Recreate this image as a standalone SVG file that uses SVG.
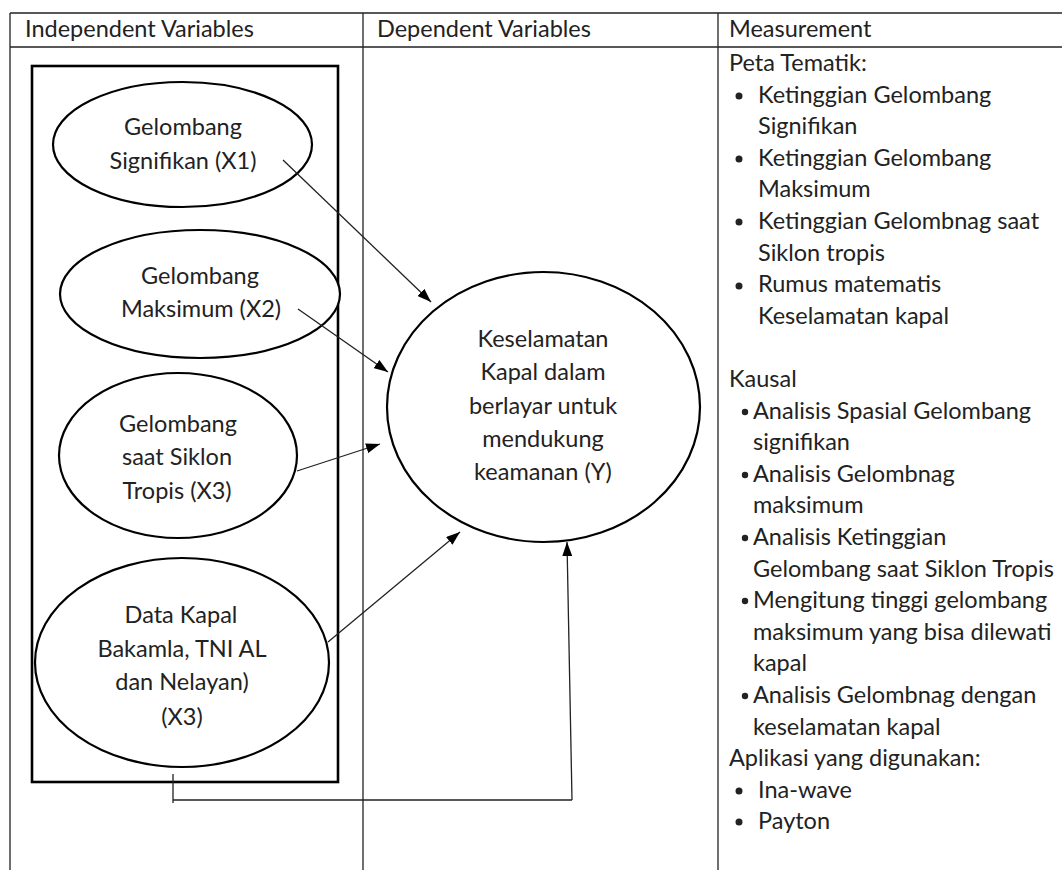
<svg xmlns="http://www.w3.org/2000/svg" width="1062" height="870" viewBox="0 0 1062 870">
<style>
text{font-family:Lato,"Open Sans","Liberation Sans",sans-serif;font-size:23.5px;fill:#222}
.c{text-anchor:middle}
.tbl{stroke:#222;stroke-width:1.3;fill:none}
.node{fill:#fff;stroke:#000;stroke-width:2.2}
.con{stroke:#222;stroke-width:1.3;fill:none}
.bul{fill:#222}
</style>
<defs>
<marker id="ah" viewBox="0 0 14 10" refX="14" refY="5" markerWidth="14" markerHeight="10" markerUnits="userSpaceOnUse" orient="auto">
<path d="M0,0 L14,5 L0,10 z" fill="#000"/>
</marker>
</defs>
<rect width="1062" height="870" fill="#fff"/>
<g id="table">
<path class="tbl" d="M10,13 H1062 M10,47 H1062 M10,13 V870 M363,13 V870 M718,13 V870"/>
<text x="25" y="37">Independent Variables</text>
<text x="377" y="37">Dependent Variables</text>
<text x="729" y="37">Measurement</text>
</g>
<g id="box">
<rect x="32" y="66" width="306" height="716" fill="none" stroke="#000" stroke-width="2.6"/>
</g>
<g id="x1">
<ellipse class="node" cx="182.5" cy="144.5" rx="129.5" ry="62.5"/>
<text class="c" x="183" y="135">Gelombang</text>
<text class="c" x="183" y="169">Signifikan (X1)</text>
</g>
<g id="x2">
<ellipse class="node" cx="200" cy="294" rx="140" ry="64"/>
<text class="c" x="200" y="284">Gelombang</text>
<text class="c" x="201" y="317">Maksimum (X2)</text>
</g>
<g id="x3">
<ellipse class="node" cx="178" cy="455.5" rx="119" ry="82.5"/>
<text class="c" x="178" y="432">Gelombang</text>
<text class="c" x="177" y="465">saat Siklon</text>
<text class="c" x="177" y="499">Tropis (X3)</text>
</g>
<g id="x4">
<ellipse class="node" cx="182" cy="662.5" rx="147" ry="104.5"/>
<text class="c" x="181" y="623">Data Kapal</text>
<text class="c" x="182" y="657">Bakamla, TNI AL</text>
<text class="c" x="182" y="690">dan Nelayan)</text>
<text class="c" x="182" y="725">(X3)</text>
</g>
<g id="y">
<ellipse class="node" cx="543.5" cy="407" rx="156.5" ry="135"/>
<text class="c" x="543" y="347">Keselamatan</text>
<text class="c" x="543" y="380">Kapal dalam</text>
<text class="c" x="543" y="414">berlayar untuk</text>
<text class="c" x="543" y="447">mendukung</text>
<text class="c" x="543" y="480">keamanan (Y)</text>
</g>
<g id="connectors">
<line class="con" x1="283" y1="160" x2="431" y2="302" marker-end="url(#ah)"/>
<line class="con" x1="298" y1="309" x2="388" y2="372" marker-end="url(#ah)"/>
<line class="con" x1="297" y1="471" x2="380" y2="444" marker-end="url(#ah)"/>
<line class="con" x1="328" y1="642" x2="460" y2="532" marker-end="url(#ah)"/>
<path class="con" d="M173,774 V803 M173,800 H572"/>
<line class="con" x1="572" y1="800" x2="567" y2="542" marker-end="url(#ah)"/>
</g>
<g id="measurement">
<text x="729" y="71">Peta Tematik:</text>
<circle class="bul" cx="739" cy="96" r="3.5"/>
<text x="758" y="103">Ketinggian Gelombang</text>
<text x="758" y="134">Signifikan</text>
<circle class="bul" cx="739" cy="159" r="3.5"/>
<text x="758" y="166">Ketinggian Gelombang</text>
<text x="758" y="197">Maksimum</text>
<circle class="bul" cx="739" cy="222" r="3.5"/>
<text x="758" y="229">Ketinggian Gelombnag saat</text>
<text x="758" y="261">Siklon tropis</text>
<circle class="bul" cx="739" cy="286" r="3.5"/>
<text x="758" y="292">Rumus matematis</text>
<text x="758" y="324">Keselamatan kapal</text>
<text x="729" y="387">Kausal</text>
<circle class="bul" cx="745" cy="412" r="3.2"/>
<text x="753" y="419">Analisis Spasial Gelombang</text>
<text x="753" y="450">signifikan</text>
<circle class="bul" cx="745" cy="475" r="3.2"/>
<text x="753" y="482">Analisis Gelombnag</text>
<text x="753" y="513">maksimum</text>
<circle class="bul" cx="745" cy="538" r="3.2"/>
<text x="753" y="545">Analisis Ketinggian</text>
<text x="753" y="577">Gelombang saat Siklon Tropis</text>
<circle class="bul" cx="745" cy="601" r="3.2"/>
<text x="753" y="608">Mengitung tinggi gelombang</text>
<text x="753" y="640">maksimum yang bisa dilewati</text>
<text x="753" y="671">kapal</text>
<circle class="bul" cx="745" cy="696" r="3.2"/>
<text x="753" y="703">Analisis Gelombnag dengan</text>
<text x="753" y="735">keselamatan kapal</text>
<text x="729" y="766">Aplikasi yang digunakan:</text>
<circle class="bul" cx="739" cy="791" r="3.5"/>
<text x="758" y="798">Ina-wave</text>
<circle class="bul" cx="739" cy="822" r="3.5"/>
<text x="758" y="829">Payton</text>
</g>
</svg>
